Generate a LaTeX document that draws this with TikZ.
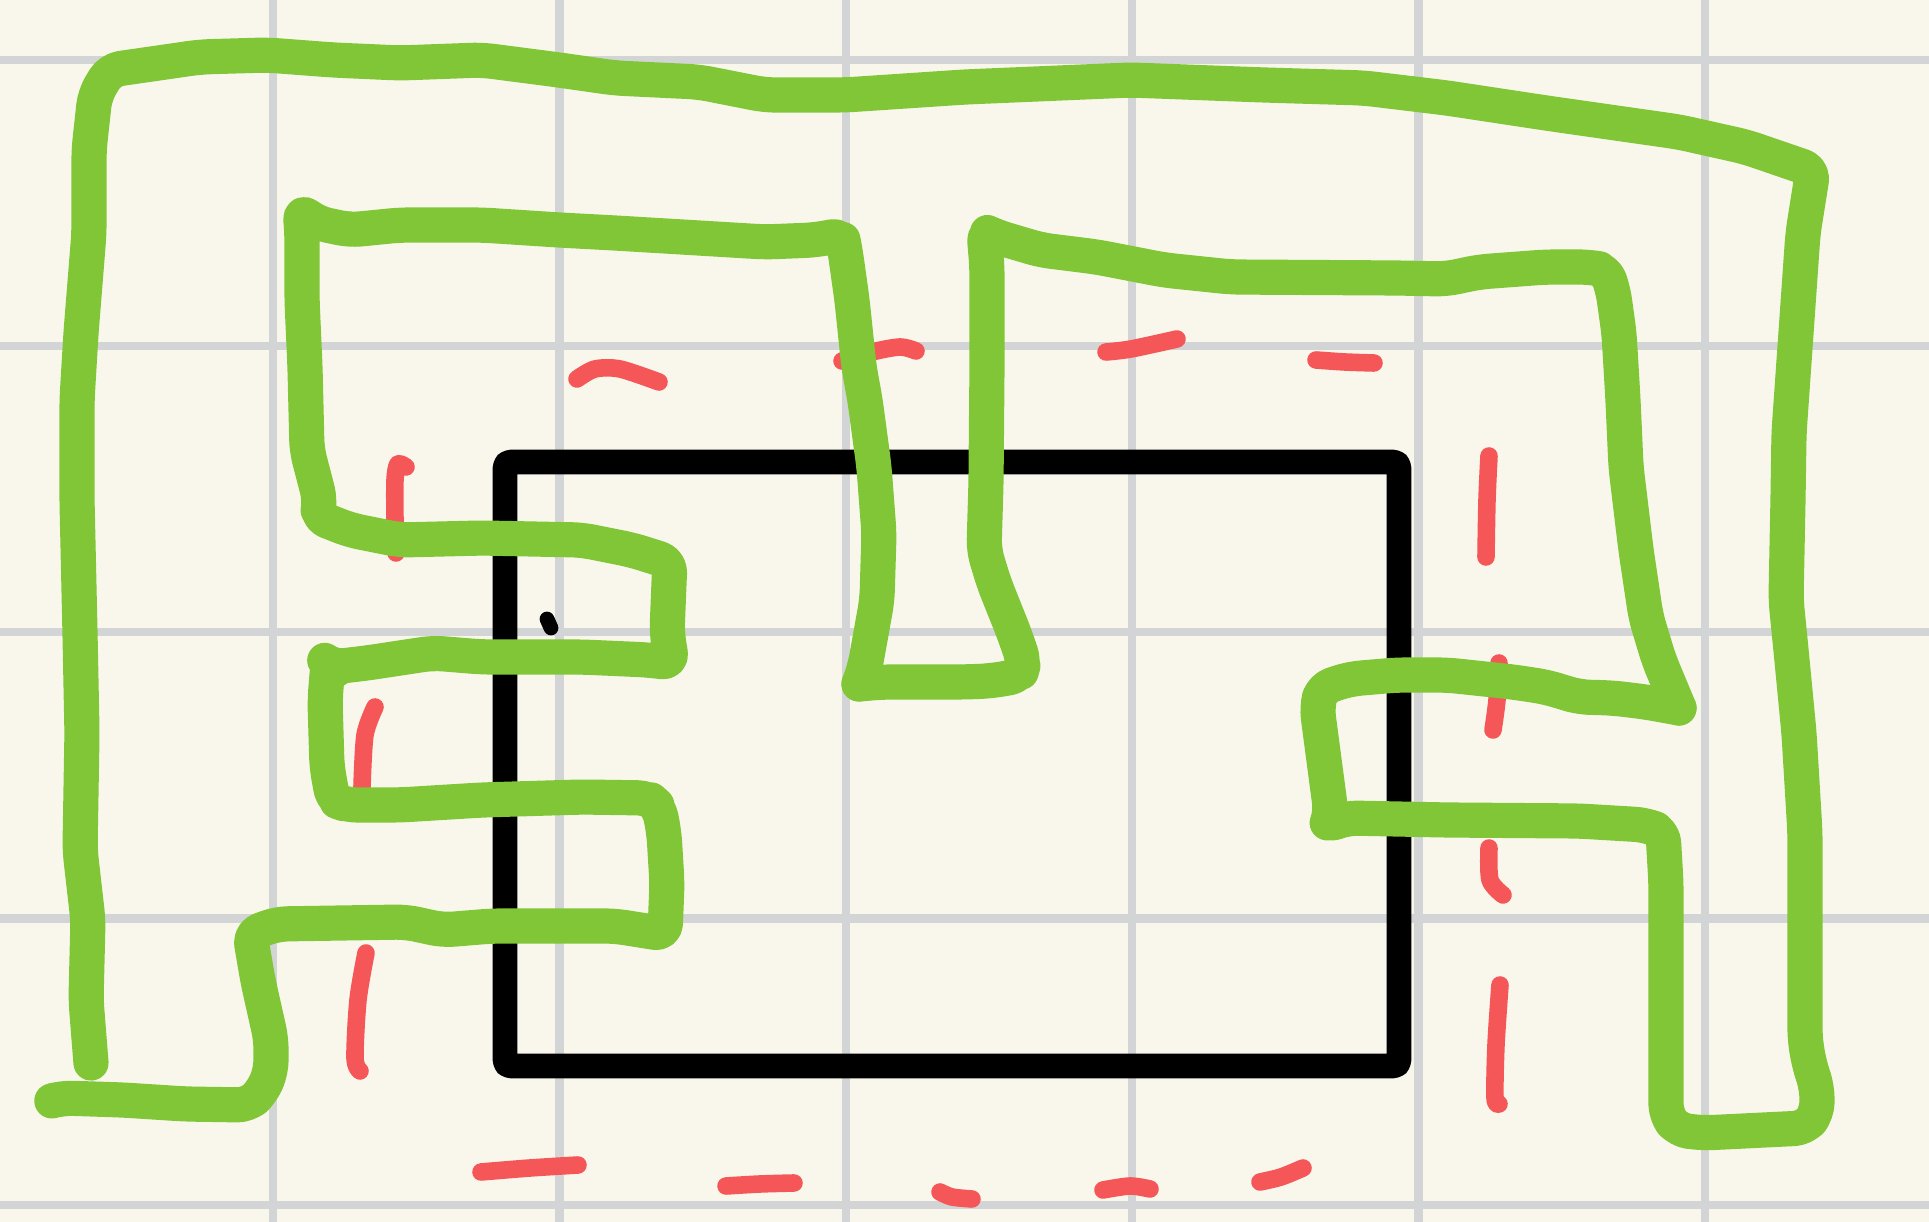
\documentclass[tikz,border=0pt]{standalone}
\usepackage{xcolor}
\usepackage{tikz}

\definecolor{paper}{HTML}{F9F7EC}
\definecolor{gridgray}{HTML}{D3D4D6}
\definecolor{penGreen}{HTML}{80C636}
\definecolor{penRed}{HTML}{F55657}

\begin{document}
\begin{tikzpicture}[x=0.01cm,y=-0.01cm,line cap=round,line join=round]
            \tikzset{gridline/.style={gridgray, line width=2.3pt, line cap=butt},
                     greenpen/.style={penGreen, line width=10pt, rounded corners=3pt},
                     redpen/.style={penRed, line width=5pt},
                     blackpen/.style={black, line width=7pt, rounded corners=1.5pt}}
            \useasboundingbox (0,0) rectangle (1929,1222);
            \fill[paper] (0,0) rectangle (1929,1222);
            % grid
            \foreach \gx in {273,559.5,846,1132,1418.5,1705}
                \draw[gridline] (\gx,0) -- (\gx,1222);
            \foreach \gy in {60,346,632,918.5,1205}
                \draw[gridline] (0,\gy) -- (1929,\gy);
            % black frame and tick
            \draw[blackpen] (505,462) rectangle (1399,1066);
            \draw[black, line width=4.2pt] (547,619) -- (551,628);
            % red strokes
            \draw[redpen] plot[smooth] coordinates {(406,467) (398,464) (395,480) (395,520) (396,553)};
            \draw[redpen] plot[smooth] coordinates {(577,379) (595,369) (620,369) (659,382)};
            \draw[redpen] plot[smooth] coordinates {(842,361) (872,352) (900,347) (916,351)};
            \draw[redpen] plot[smooth] coordinates {(1106,352) (1131,349) (1177,339)};
            \draw[redpen] plot[smooth] coordinates {(1316,360) (1345,362) (1374,363)};
            \draw[redpen] plot[smooth] coordinates {(1489,456) (1487,500) (1486,557)};
            \draw[redpen] plot[smooth] coordinates {(1499,663) (1497,700) (1493,730)};
            \draw[redpen] plot[smooth] coordinates {(1489,848) (1490,880) (1503,895)};
            \draw[redpen] plot[smooth] coordinates {(1500,985) (1496,1045) (1495,1098) (1499,1104)};
            \draw[redpen] plot[smooth] coordinates {(375,707) (365,735) (362,787)};
            \draw[redpen] plot[smooth] coordinates {(366,953) (358,1000) (355,1058) (360,1071)};
            \draw[redpen] plot[smooth] coordinates {(481,1172) (530,1168) (578,1165)};
            \draw[redpen] plot[smooth] coordinates {(726,1186) (760,1184) (794,1183)};
            \draw[redpen] plot[smooth] coordinates {(940,1192) (952,1197) (972,1199)};
            \draw[redpen] plot[smooth] coordinates {(1103,1190) (1130,1186) (1150,1189)};
            \draw[redpen] plot[smooth] coordinates {(1260,1182) (1281,1177) (1303,1168)};
            % outer frame, bottom right and inner right box
            \draw[greenpen] (91,1063) -- (86,1000) -- (88,920) -- (80,850) -- (82,733)
                -- (80,633) -- (77,500) -- (77,400) -- (81,333) -- (89,233) -- (89,150)
                -- (95,95) -- (110,70) -- (200,57) -- (267,55) -- (333,60)
                -- (400,63) -- (482,60) -- (559,70) -- (615,78) -- (699,82) -- (765,95)
                -- (845,95) -- (965,87) -- (1131,80) -- (1264,85) -- (1364,88) -- (1447,98)
                -- (1546,113) -- (1679,132) -- (1746,147) -- (1813,170)
                -- (1803,233) -- (1796,333) -- (1789,433) -- (1788,500) -- (1786,600)
                -- (1791,650) -- (1799,733) -- (1805,833) -- (1805,1039) -- (1809,1063)
                -- (1817,1088) -- (1817,1113) -- (1805,1128) -- (1703,1133) -- (1678,1130)
                -- (1666,1115) -- (1666,1050) -- (1666,961) -- (1666,883) -- (1663,832)
                -- (1646,825) -- (1579,821) -- (1447,820) -- (1347,818) -- (1326,826)
                -- (1331,813) -- (1317,707) -- (1322,688) -- (1350,679) -- (1397,675)
                -- (1447,675) -- (1513,682) -- (1546,687) -- (1579,697) -- (1613,698)
                -- (1646,702) -- (1679,708);
            % top right box
            \draw[greenpen] (1679,708) -- (1659,660) -- (1646,617) -- (1636,550)
                -- (1626,467) -- (1623,400) -- (1619,333) -- (1613,290) -- (1606,270)
                -- (1589,267) -- (1546,267) -- (1479,272) -- (1446,279) -- (1397,278)
                -- (1231,277) -- (1164,270) -- (1097,257) -- (1041,250) -- (997,237)
                -- (984,231) -- (987,267) -- (987,367) -- (986,483) -- (984,550)
                -- (994,583) -- (1014,633) -- (1024,662) -- (1020,676) -- (990,681)
                -- (964,682) -- (882,682) -- (859,684);
            % middle and left boxes
            \draw[greenpen] (859,684) -- (865,667) -- (877,600) -- (879,533) -- (874,467)
                -- (865,400) -- (859,367) -- (852,300) -- (845,250) -- (842,235)
                -- (815,240) -- (765,242) -- (682,237) -- (615,233) -- (559,230)
                -- (482,225) -- (400,225) -- (350,230) -- (317,223) -- (300,210)
                -- (302,233) -- (302,300) -- (305,367) -- (307,450) -- (320,500)
                -- (317,517) -- (350,530) -- (400,540) -- (482,538) -- (582,540)
                -- (632,550) -- (670,562) -- (669,583) -- (667,633)
                -- (672,663) -- (649,660) -- (582,657) -- (482,657) -- (433,653)
                -- (367,663) -- (333,667) -- (328,663) -- (325,700) -- (327,767)
                -- (333,800) -- (347,805) -- (400,805) -- (482,800) -- (582,797)
                -- (649,798) -- (659,807) -- (664,833) -- (667,883) -- (665,934)
                -- (615,926) -- (492,926) -- (443,930) -- (406,922) -- (277,924)
                -- (250,934) -- (258,981) -- (271,1039) -- (271,1071)
                -- (262,1092) -- (248,1105) -- (185,1104) -- (123,1100) -- (62,1098)
                -- (55,1100);
        \end{tikzpicture}
\end{document}
